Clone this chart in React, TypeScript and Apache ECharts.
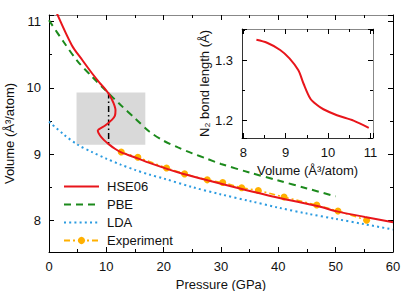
import React, { useEffect, useRef } from 'react';
import * as echarts from 'echarts';

// Main panel: volume (Å^3/atom) vs pressure (GPa)
const hsePressure = [1.4, 4.0, 5.8, 7.5, 8.8, 9.9, 10.5, 11.2, 11.6, 11.5, 11.0, 9.8, 8.5, 8.9, 9.6, 10.4, 11.5, 12.7, 15.6, 17.4, 22.6, 27.8, 31.9, 40, 47, 50.4, 55.1, 60];
const hseVolume = [11.12, 10.64, 10.42, 10.22, 10.08, 9.97, 9.9, 9.78, 9.66, 9.58, 9.52, 9.43, 9.35, 9.28, 9.21, 9.15, 9.08, 9.02, 8.93, 8.87, 8.72, 8.6, 8.51, 8.34, 8.21, 8.13, 8.05, 7.97];

const pbePressure = [0, 2.5, 5, 7.5, 10, 12.5, 15, 17.5, 20, 22.5, 25, 27.5, 30, 35, 40, 45, 50];
const pbeVolume = [11.02, 10.7, 10.4, 10.17, 9.95, 9.74, 9.54, 9.34, 9.2, 9.1, 9.01, 8.93, 8.85, 8.72, 8.6, 8.48, 8.36];

const ldaPressure = [0, 2.5, 5, 7.5, 10, 12.5, 15, 17.5, 20, 25, 30, 35, 40, 45, 50, 55, 60];
const ldaVolume = [9.49, 9.3, 9.14, 9.03, 8.93, 8.84, 8.76, 8.69, 8.63, 8.5, 8.39, 8.29, 8.19, 8.1, 8.02, 7.94, 7.86];

const expPressure = [12.6, 15.5, 20.5, 23.65, 27.6, 30.3, 33.6, 36.5, 41.0, 46.7, 50.4, 55.4];
const expVolume = [9.03, 8.95, 8.79, 8.7, 8.61, 8.57, 8.49, 8.45, 8.35, 8.23, 8.14, 8.0];

// Transition region marker (pressure range, volume range, vertical line)
const boxPressure = [4.8, 16.8];
const boxVolume = [9.93, 9.14];
const transitionPressure = 10.4;

// Inset: N2 bond length vs volume
const insetVolume = [8.31, 8.56, 8.87, 9.09, 9.3, 9.42, 9.58, 9.74, 9.89, 10.21, 10.6, 10.96];
const insetBond = [1.334, 1.329, 1.317, 1.303, 1.283, 1.261, 1.236, 1.225, 1.218, 1.208, 1.199, 1.187];
const insetBand = [9.09, 9.88];

const legendNames = ['HSE06', 'PBE', 'LDA', 'Experiment'];

const zip = (a: number[], b: number[]) => a.map((v, i) => [v, b[i]]);

const FONT = 'Liberation Sans, Arial, Helvetica, sans-serif';
const TXT = '#111';

function axisBase(gridIndex: number, position: string, mirror: boolean, lineColor: string) {
  return {
    type: 'value',
    gridIndex,
    position,
    axisLine: { show: true, onZero: false, lineStyle: { color: lineColor, width: 1 } },
    axisTick: { show: true, inside: true, length: 5, lineStyle: { color: '#000', width: 1 } },
    minorTick: { show: true, splitNumber: 2, length: 3, lineStyle: { color: '#000', width: 1 } },
    splitLine: { show: false },
    minorSplitLine: { show: false },
    axisLabel: mirror
      ? { show: false }
      : { show: true, color: TXT, fontSize: 13, fontFamily: FONT, margin: 8, showMinLabel: false, showMaxLabel: false },
  };
}

export default function App() {
  const ref = useRef<HTMLDivElement>(null);
  useEffect(() => {
    if (!ref.current) return;
    const chart = echarts.init(ref.current, null, { renderer: 'svg' });
    const mainX = { min: 0, max: 60, interval: 10 };
    const mainY = { min: 7.52, max: 11.1, splitNumber: 4 };
    const inX = { min: 7.97, max: 11.06, splitNumber: 3 };
    const inY = { min: 1.17, max: 1.352, splitNumber: 2 };

    const option: any = {
      animation: false,
      backgroundColor: '#fff',
      textStyle: { fontFamily: FONT },
      grid: [
        { left: 49, top: 15, width: 344, height: 237, containLabel: false, outerBoundsMode: 'none' },
        { left: 242, top: 29, width: 131, height: 109, containLabel: false, outerBoundsMode: 'none', show: true, backgroundColor: '#fff', borderWidth: 0, z: 3 },
      ],
      xAxis: [
        {
          ...axisBase(0, 'bottom', false, '#000'), ...mainX,
          axisLabel: { show: true, color: TXT, fontSize: 13, fontFamily: FONT, margin: 8 },
          name: 'Pressure (GPa)', nameLocation: 'middle', nameGap: 24,
          nameTextStyle: { color: TXT, fontSize: 13, fontFamily: FONT },
        },
        { ...axisBase(0, 'top', true, '#888'), ...mainX },
        {
          ...axisBase(1, 'bottom', false, '#333'), ...inX,
          axisLabel: { show: true, color: TXT, fontSize: 13, fontFamily: FONT, margin: 8, showMinLabel: false, showMaxLabel: false, formatter: (v: number) => String(Math.round(v)) },
          name: 'Volume (Å³/atom)', nameLocation: 'middle', nameGap: 26,
          nameTextStyle: { color: TXT, fontSize: 13, fontFamily: FONT },
          z: 4,
        },
        { ...axisBase(1, 'top', true, '#888'), ...inX, z: 4 },
      ],
      yAxis: [
        {
          ...axisBase(0, 'left', false, '#000'), ...mainY,
          axisLabel: { show: true, color: TXT, fontSize: 13, fontFamily: FONT, margin: 8, showMinLabel: false, showMaxLabel: false, formatter: (v: number) => String(Math.round(v)) },
          name: 'Volume (Å³/atom)', nameLocation: 'middle', nameGap: 29,
          nameTextStyle: { color: TXT, fontSize: 13, fontFamily: FONT },
        },
        { ...axisBase(0, 'right', true, '#000'), ...mainY },
        {
          ...axisBase(1, 'left', false, '#333'), ...inY,
          axisLabel: { show: true, color: TXT, fontSize: 13, fontFamily: FONT, margin: 9, showMinLabel: false, showMaxLabel: false, formatter: (v: number) => v.toFixed(1) },
          name: 'N₂ bond length (Å)', nameLocation: 'middle', nameGap: 30,
          nameTextStyle: { color: TXT, fontSize: 13, fontFamily: FONT },
          z: 4,
        },
        { ...axisBase(1, 'right', true, '#888'), ...inY, z: 4 },
      ],
      legend: {
        data: [
          { name: 'HSE06', itemStyle: { opacity: 0 } },
          { name: 'PBE', itemStyle: { opacity: 0 } },
          { name: 'LDA', itemStyle: { opacity: 0 } },
          { name: 'Experiment' },
        ],
        orient: 'vertical',
        left: 63,
        top: 180,
        itemWidth: 35,
        itemHeight: 9,
        itemGap: 5,
        padding: 0,
        textStyle: { color: TXT, fontSize: 13, fontFamily: FONT, padding: [0, 0, 0, 3] },
        backgroundColor: 'transparent',
        selectedMode: false,
      },
      series: [
        {
          name: 'transition',
          type: 'line',
          xAxisIndex: 0,
          yAxisIndex: 0,
          data: [[transitionPressure, boxVolume[0]], [transitionPressure, boxVolume[1]]],
          symbol: 'none',
          lineStyle: { color: '#000', width: 1.5, type: [6, 3, 1.5, 3] },
          z: 3,
          markArea: {
            silent: true,
            itemStyle: { color: '#d9d9d9' },
            data: [[{ coord: [boxPressure[0], boxVolume[0]] }, { coord: [boxPressure[1], boxVolume[1]] }]],
          },
        },
        {
          name: 'LDA',
          type: 'line',
          xAxisIndex: 0,
          yAxisIndex: 0,
          data: zip(ldaPressure, ldaVolume),
          symbol: 'none',
          smooth: 0.3,
          color: '#2b9be0',
          lineStyle: { color: '#2b9be0', width: 2, type: [2, 3.2] },
          z: 4,
        },
        {
          name: 'PBE',
          type: 'line',
          xAxisIndex: 0,
          yAxisIndex: 0,
          data: zip(pbePressure, pbeVolume),
          symbol: 'none',
          smooth: 0.3,
          color: '#1c8a1c',
          lineStyle: { color: '#1c8a1c', width: 2, type: [7, 5] },
          z: 4,
        },
        {
          name: 'Experiment',
          type: 'line',
          xAxisIndex: 0,
          yAxisIndex: 0,
          data: zip(expPressure, expVolume),
          symbol: 'circle',
          symbolSize: 7,
          color: '#ffb000',
          itemStyle: { color: '#ffb000' },
          lineStyle: { color: '#ffb000', width: 1.5, type: [6, 3, 2, 3] },
          z: 5,
        },
        {
          name: 'HSE06',
          type: 'line',
          xAxisIndex: 0,
          yAxisIndex: 0,
          data: zip(hsePressure, hseVolume),
          symbol: 'none',
          smooth: 0.3,
          color: '#e8151b',
          lineStyle: { color: '#e8151b', width: 2 },
          z: 6,
        },
        {
          name: 'inset',
          type: 'line',
          xAxisIndex: 2,
          yAxisIndex: 2,
          data: zip(insetVolume, insetBond),
          symbol: 'none',
          smooth: 0.3,
          color: '#e8151b',
          lineStyle: { color: '#e8151b', width: 2 },
          z: 6,
          markArea: {
            silent: true,
            itemStyle: { color: '#d9d9d9' },
            data: [[{ xAxis: insetBand[0] }, { xAxis: insetBand[1] }]],
          },
        },
      ],
    };
    chart.setOption(option);
    return () => chart.dispose();
  }, []);
  return <div ref={ref} style={{ position: 'fixed', left: 0, top: 0, width: 415, height: 291 }} />;
}
